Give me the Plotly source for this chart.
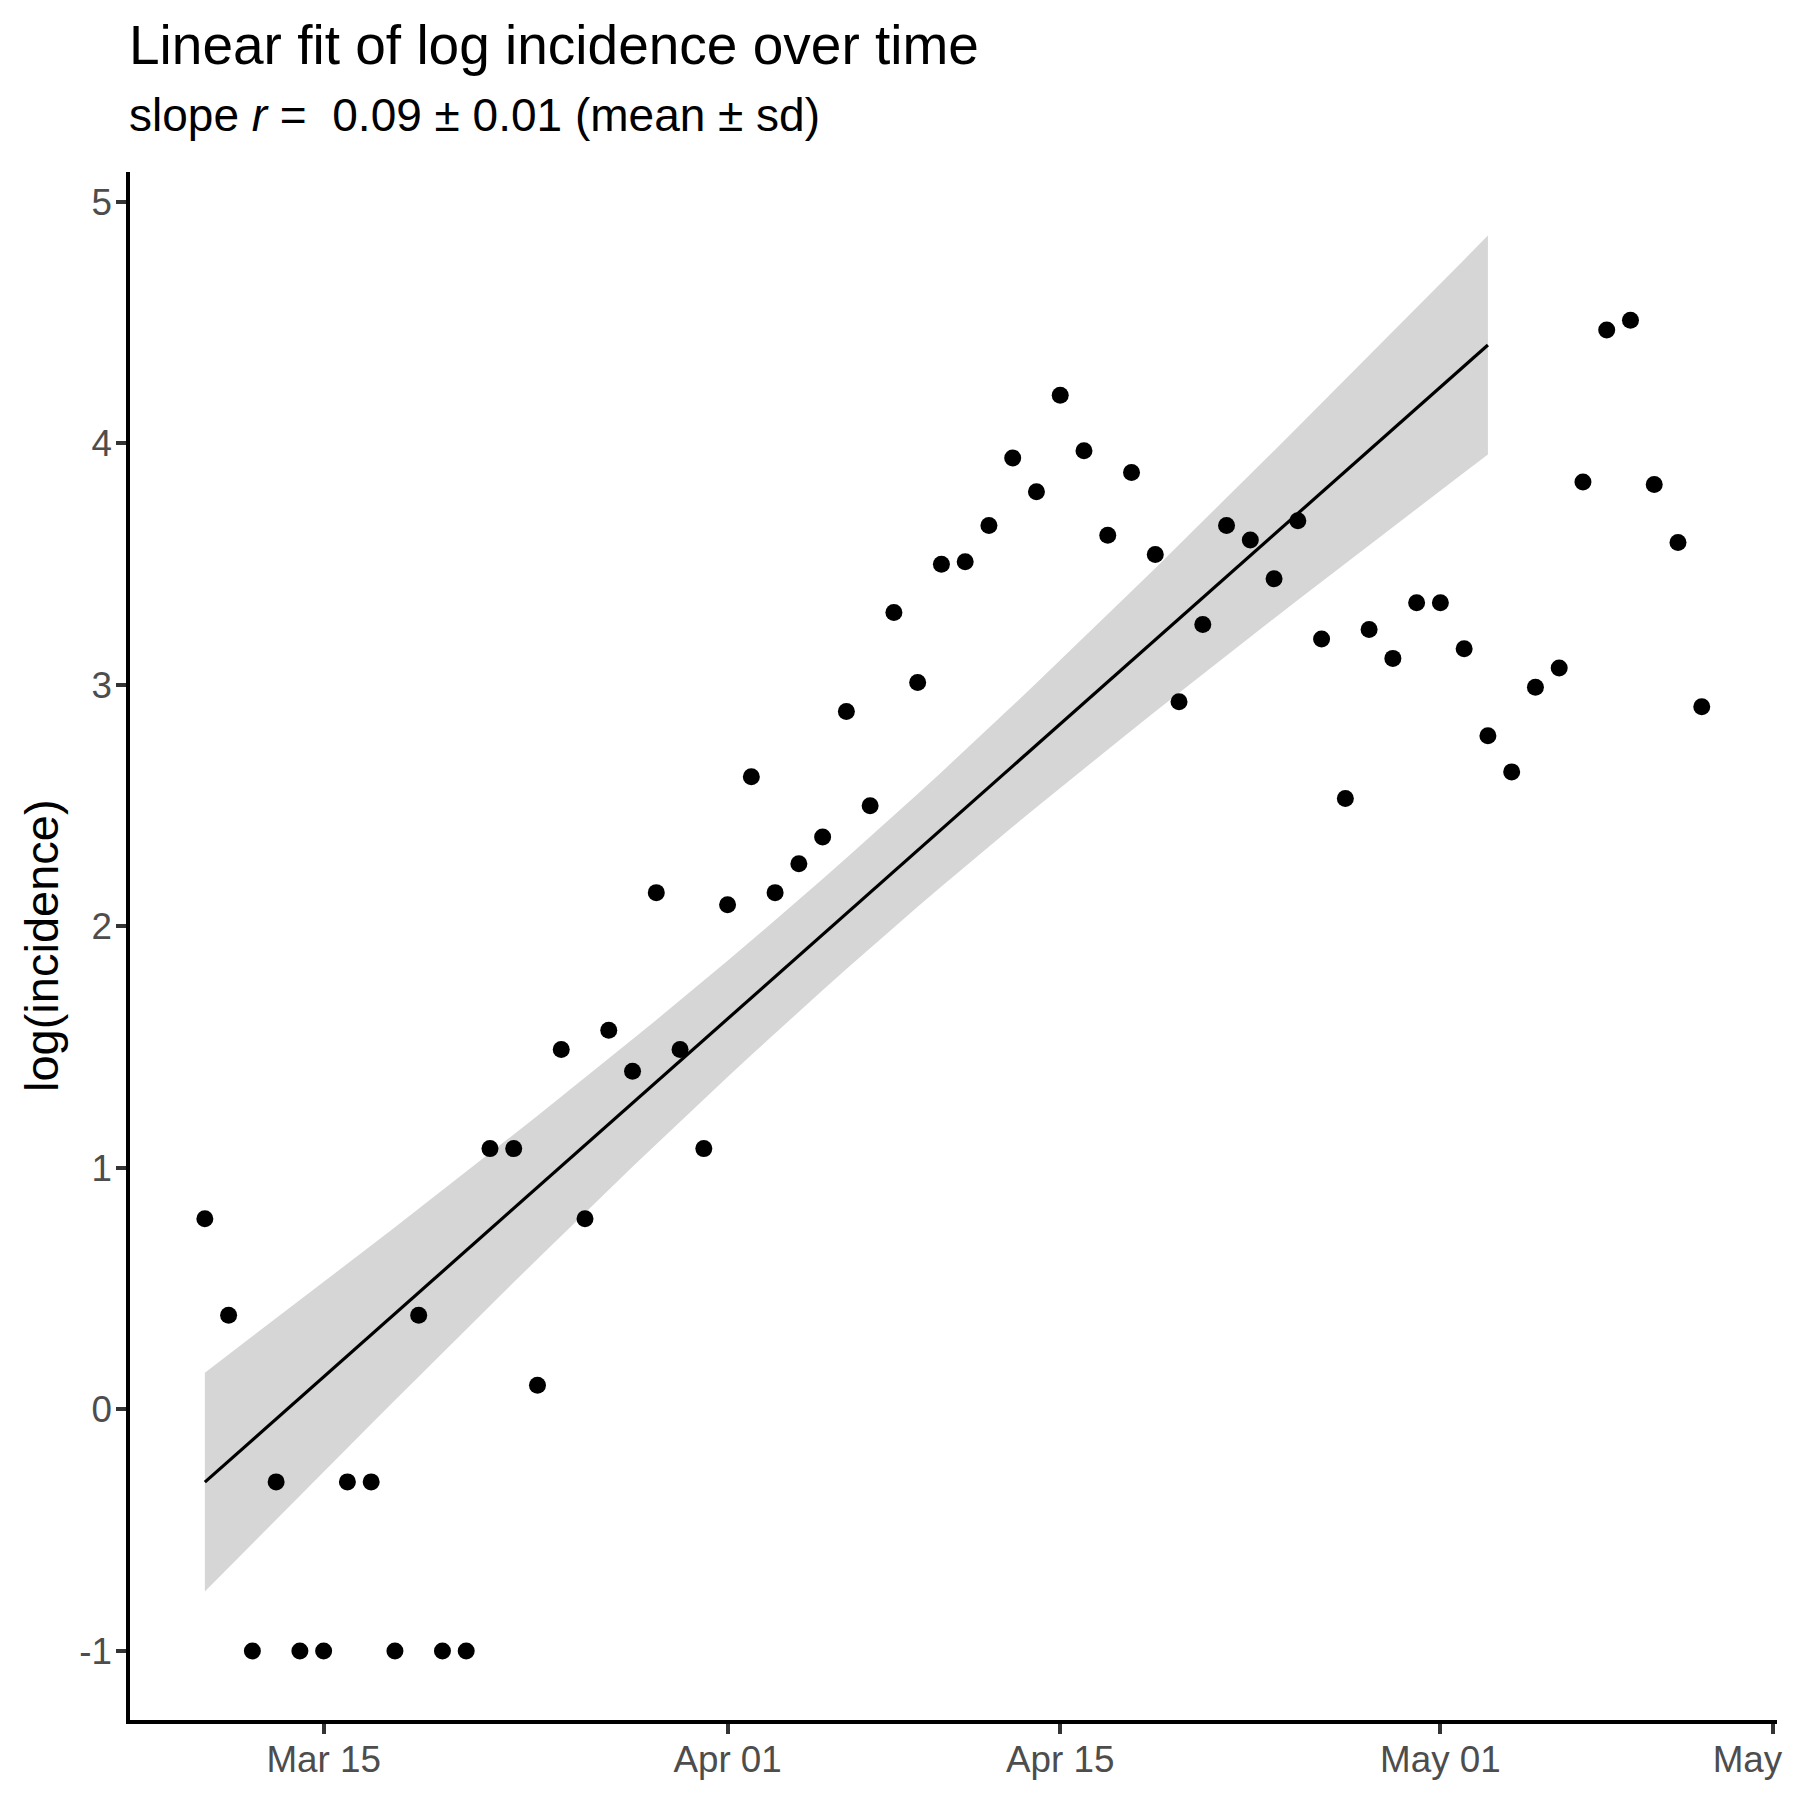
import numpy as np
import pandas as pd
import plotly.graph_objects as go

# daily log incidence (Mar 10 .. May 12)
start_date = "2020-03-10"
log_inc = [0.79, 0.39, -1.00, -0.30, -1.00, -1.00, -0.30, -0.30, -1.00, 0.39,
           -1.00, -1.00, 1.08, 1.08, 0.10, 1.49, 0.79, 1.57, 1.40, 2.14,
           1.49, 1.08, 2.09, 2.62, 2.14, 2.26, 2.37, 2.89, 2.50, 3.30,
           3.01, 3.50, 3.51, 3.66, 3.94, 3.80, 4.20, 3.97, 3.62, 3.88,
           3.54, 2.93, 3.25, 3.66, 3.60, 3.44, 3.68, 3.19, 2.53, 3.23,
           3.11, 3.34, 3.34, 3.15, 2.79, 2.64, 2.99, 3.07, 3.84, 4.47,
           4.51, 3.83, 3.59, 2.91]
fit_end = "2020-05-03"

y_ticks = [-1, 0, 1, 2, 3, 4, 5]
x_ticks = ["2020-03-15", "2020-04-01", "2020-04-15", "2020-05-01", "2020-05-15"]

title = "Linear fit of log incidence over time"
subtitle = "slope <i>r</i> =  0.09 \u00b1 0.01 (mean \u00b1 sd)"
y_title = "log(incidence)"

dates = pd.date_range(start_date, periods=len(log_inc), freq="D")
y = np.array(log_inc)

# linear model on the fitting window, 95% band
mask = dates <= pd.Timestamp(fit_end)
t = np.arange(len(y))[mask].astype(float)
yf = y[mask]
n = len(t)
b, a = np.polyfit(t, yf, 1)
pred = a + b * t
s = np.sqrt(np.sum((yf - pred) ** 2) / (n - 2))
sxx = np.sum((t - t.mean()) ** 2)
se = s * np.sqrt(1 / n + (t - t.mean()) ** 2 / sxx)
tq = 2.006  # t quantile, df = 53
upper = pred + tq * se
lower = pred - tq * se
fit_dates = dates[mask]

font = "Liberation Sans, Arial, sans-serif"

fig = go.Figure()
fig.add_trace(go.Scatter(
    x=list(fit_dates) + list(fit_dates[::-1]),
    y=list(upper) + list(lower[::-1]),
    fill="toself", fillcolor="#D6D6D6", line=dict(width=0),
    mode="lines", hoverinfo="skip", showlegend=False))
fig.add_trace(go.Scatter(
    x=fit_dates, y=pred, mode="lines",
    line=dict(color="black", width=3.2), showlegend=False))
fig.add_trace(go.Scatter(
    x=dates, y=y, mode="markers",
    marker=dict(color="black", size=17), showlegend=False))

axis_style = dict(
    showgrid=False, zeroline=False, showline=True, linecolor="black",
    linewidth=3.5, ticks="outside", ticklen=10, tickwidth=3.5,
    tickcolor="#333333", tickfont=dict(family=font, size=36.8, color="#4D4D4D"),
    automargin=False, ticklabeloverflow="allow")

fig.update_xaxes(
    type="date", range=["2020-03-06 20:24", "2020-05-15 04:00"],
    tickvals=x_ticks, tickformat="%b %d", ticklabelstandoff=-6, **axis_style)
fig.update_yaxes(
    range=[-1.286, 5.124], tickvals=y_ticks,
    ticktext=[str(v) for v in y_ticks], ticklabelstandoff=-3, **axis_style)

# page has an 8px body margin, so the figure is 1792px and shifted
plot_h = 1548
plot_w = 1647
fig.add_annotation(text=title, xref="paper", yref="paper", x=-3 / plot_w, y=(1712 - 37) / plot_h,
                   xanchor="left", yanchor="middle", showarrow=False,
                   font=dict(family=font, size=55, color="black"))
fig.add_annotation(text=subtitle, xref="paper", yref="paper", x=-3 / plot_w, y=(1712 - 107) / plot_h,
                   xanchor="left", yanchor="middle", showarrow=False,
                   font=dict(family=font, size=46, color="black"))
fig.add_annotation(text=y_title, xref="paper", yref="paper", x=(41 - 130) / plot_w, y=0.5,
                   xanchor="center", yanchor="middle", textangle=-90, showarrow=False,
                   font=dict(family=font, size=47, color="black"))

fig.update_layout(
    width=1792, height=1792,
    margin=dict(l=122, r=23, t=164, b=80),
    plot_bgcolor="white", paper_bgcolor="white",
    font=dict(family=font))

fig.write_html("out.html")
